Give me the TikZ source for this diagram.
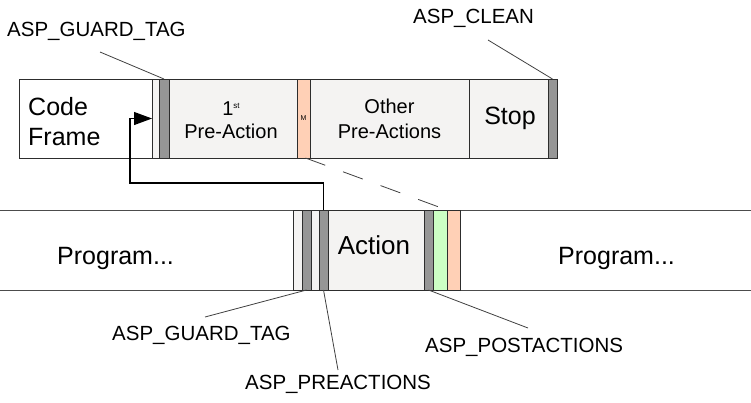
\documentclass[tikz,border=0pt]{standalone}
\usepackage{fontspec}
\setmainfont{Liberation Sans}
\usetikzlibrary{arrows.meta,calc}
\definecolor{boxfill}{RGB}{244,243,242}
\definecolor{tagfill}{RGB}{150,150,150}
\definecolor{peach}{RGB}{255,208,182}
\definecolor{mint}{RGB}{204,255,196}
\definecolor{edge}{RGB}{45,45,45}
\begin{document}
\begin{tikzpicture}[x=1pt,y=-1pt,
  cell/.style={draw=edge, line width=1pt, inner sep=0pt, outer sep=0pt, anchor=north west},
  toprow/.style={cell, minimum height=79pt},
  botrow/.style={cell, minimum height=80pt},
  lbl/.style={font=\fontsize{20.5}{24}\selectfont, inner sep=0pt, anchor=base west},
  inbox/.style={font=\fontsize{20}{24}\selectfont, inner sep=0pt, anchor=base},
  big/.style={font=\fontsize{25}{30}\selectfont, inner sep=0pt, anchor=base west},
  leader/.style={draw=black!75, line width=0.8pt},
  rowline/.style={draw=black!70, line width=1pt},
  flow/.style={draw=black, line width=1.1pt, -{Triangle[length=18pt,width=13pt]}},
  dashlink/.style={draw=black!75, line width=0.8pt, dash pattern=on 21pt off 19pt}
]
\useasboundingbox (0,0) rectangle (751,402);

% bottom row lines
\coordinate (rowTL) at (0,210);
\coordinate (rowTR) at (751,210);
\coordinate (rowBL) at (0,290);
\coordinate (rowBR) at (751,290);
\draw[rowline] (rowTL) -- (rowTR);
\draw[rowline] (rowBL) -- (rowBR);

% top row
\node[toprow, fill=white,   minimum width=133pt] (cf)  at (19,79)  {};
\node[toprow, fill=boxfill, minimum width=7pt]   (gs0) at (152,79) {};
\node[toprow, fill=tagfill, minimum width=10pt]  (gt)  at (159,79) {};
\node[toprow, fill=boxfill, minimum width=128pt] (pa1) at (169,79) {};
\node[toprow, fill=peach,   minimum width=13pt]  (ms)  at (297,79) {};
\node[toprow, fill=boxfill, minimum width=159pt] (pao) at (310,79) {};
\node[toprow, fill=boxfill, minimum width=79pt]  (stp) at (469,79) {};
\node[toprow, fill=tagfill, minimum width=9pt]   (cl)  at (548,79) {};

% bottom row
\node[botrow, fill=boxfill, minimum width=9pt]  (bs0) at (293,210) {};
\node[botrow, fill=tagfill, minimum width=9pt]  (bg)  at (302,210) {};
\node[botrow, fill=boxfill, minimum width=8pt]  (bs1) at (311,210) {};
\node[botrow, fill=tagfill, minimum width=9pt]  (bp)  at (319,210) {};
\node[botrow, fill=boxfill, minimum width=96pt] (act) at (328,210) {};
\node[botrow, fill=tagfill, minimum width=9pt]  (bq)  at (424,210) {};
\node[botrow, fill=mint,    minimum width=14pt] (gr)  at (433,210) {};
\node[botrow, fill=peach,   minimum width=13pt] (og)  at (447,210) {};

% texts in boxes
\node[big] (tcode)  at (28,115) {Code};
\node[big] (tframe) at (28,145) {Frame};
\node[inbox] (tfirst) at (231,115) {1\raisebox{7pt}{\fontsize{8}{8}\selectfont st}};
\node[inbox] (tpre)   at (231,138) {Pre-Action};
\node[inner sep=0pt, font=\fontsize{7}{8}\selectfont] (tm) at (ms.center) {M};
\node[inbox] (tother) at (389.5,113) {Other};
\node[inbox] (tpres)  at (389.5,138) {Pre-Actions};
\node[big, anchor=base] (tstop) at (510,124) {Stop};
\node[inner sep=0pt, anchor=base, font=\fontsize{26}{30}\selectfont] (tact) at (374,254) {Action};
\node[big] (tprogl) at (57,264) {Program...};
\node[big] (tprogr) at (558,264) {Program...};

% labels
\node[lbl] (lgt1)  at (7,36)    {ASP\_GUARD\_TAG};
\node[lbl] (lcl)   at (413,23)  {ASP\_CLEAN};
\node[lbl] (lgt2)  at (112,340) {ASP\_GUARD\_TAG};
\node[lbl] (lpre)  at (245,389) {ASP\_PREACTIONS};
\node[lbl] (lpost) at (425,352) {ASP\_POSTACTIONS};

% leader end points
\coordinate (e1) at (100,52);
\coordinate (e2) at (488,40);
\coordinate (e3) at (205,317);
\coordinate (e4) at (338,370);
\coordinate (e5) at (528,328);
\draw[leader] (e1) -- (gt.north);
\draw[leader] (e2) -- (cl.north);
\draw[leader] (e3) -- (bg.south);
\draw[leader] (bp.south) -- (e4);
\draw[leader] (bq.south) -- (e5);

% dashed link
\draw[dashlink] ($(ms.south)+(2,0)$) -- (og.north west);

% flow arrow
\coordinate (bendA) at (130,183);
\draw[flow] (bp.north) |- (bendA) |- (cf.east);
\end{tikzpicture}
\end{document}
